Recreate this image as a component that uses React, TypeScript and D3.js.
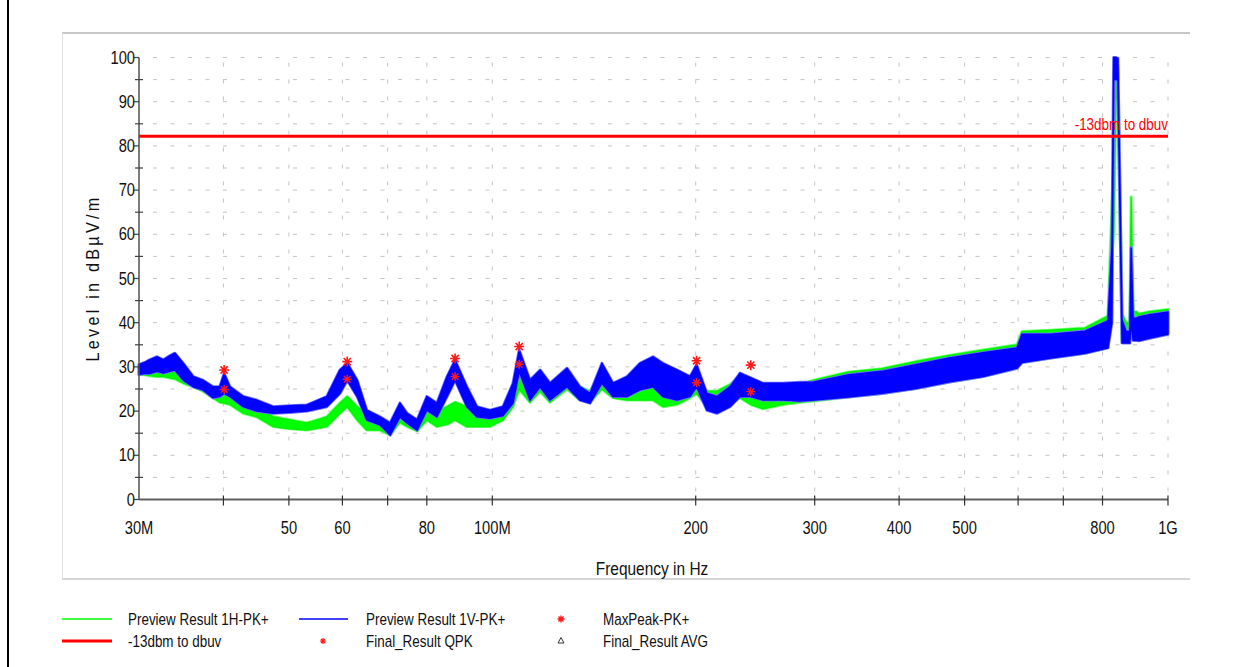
import React from 'react';
import * as d3 from 'd3';

// ---- data ----
const freqMHz = [30, 30.6, 31.1, 31.9, 32.6, 33.3, 33.9, 34.9, 36.1, 37.3, 38.6, 39.5, 40.1, 40.9, 42.8, 44.8, 47.4, 50.2, 53.2, 56.9, 59.5, 61, 63.1, 65.2, 68.2, 70.6, 73, 74.8, 77.4, 80, 82.8, 85.7, 88.1, 91.7, 94.9, 99.2, 103.7, 107.3, 109.6, 113.7, 117.7, 121.7, 129, 134.8, 139.5, 145.3, 150.9, 158.3, 165.4, 172.9, 178.9, 187.7, 196.2, 200.6, 207.8, 215, 224.8, 232.6, 241.3, 251.5, 269.4, 285.4, 299.3, 336.1, 377.3, 423.2, 474.9, 532.4, 597.8, 608, 671, 753.6, 815, 826, 831, 838, 843, 855, 867, 878, 882, 888, 897, 906, 940, 1000];

const vLow = [28.3, 28.5, 28.5, 29, 28.6, 29, 29.3, 27, 25.5, 24.8, 23, 23.3, 24, 23.3, 21, 20, 19.5, 19.7, 20, 21, 24, 27, 23.3, 18, 16.9, 14.6, 18.7, 17.3, 15.7, 20.2, 18.7, 23.3, 27, 21, 18.7, 18.4, 19, 21.8, 29, 22.5, 25.5, 22.5, 25.5, 22.5, 21.8, 26.3, 23.3, 23.3, 24.8, 25.5, 23.3, 22.5, 23.3, 25.5, 20.2, 19.5, 21, 23.3, 23.3, 22.5, 22.5, 22.3, 22.5, 23.2, 24, 25.1, 26.6, 27.8, 29.7, 31, 32, 33.1, 34.3, 40, 95, 95, 95, 35.4, 35.4, 35.4, 40, 36, 36, 35.9, 36.5, 37.4];
const vHigh = [30.5, 31, 31.6, 32.3, 31.6, 32.5, 33.1, 30.8, 27.8, 27, 25.5, 25.5, 28.5, 25.5, 23.3, 22.5, 21, 21.2, 21.4, 23.3, 29.3, 30.8, 27, 20.2, 18.7, 17.3, 21.8, 19.5, 18, 23.3, 21.8, 27.8, 31.5, 25.5, 21, 20.2, 21, 26.3, 33.8, 27, 29.3, 26.3, 29.7, 25.5, 24, 30.8, 26.3, 27.8, 30.8, 32.3, 30.8, 29.3, 27.8, 30.5, 24, 23.3, 25.5, 28.6, 27.5, 26.3, 26.3, 26.5, 26.6, 28.2, 29, 30.5, 32, 33.2, 34.3, 37.4, 37.4, 38.1, 40.4, 57, 100, 100, 99.8, 40.6, 38, 38, 57, 41, 41, 41.3, 41.8, 42.4];
const hLow = [28.3, 28.2, 28, 27.8, 27.8, 27.5, 27.3, 26.3, 25.5, 24.5, 23, 22, 21.8, 21.5, 19.5, 18.7, 16.5, 16, 15.7, 16.5, 19.5, 21, 18, 15.7, 15.7, 14.6, 17.5, 16.5, 15.5, 18, 16.5, 17, 18, 16.5, 16.5, 16.5, 18, 21, 25, 22, 24.5, 22, 25, 22.5, 22, 25, 23, 22.5, 22.5, 22.5, 21, 21.5, 23, 24, 21, 20.5, 21.5, 23, 21.5, 20.5, 21.5, 22, 22.3, 23.2, 24, 25.1, 26.6, 27.8, 29.7, 31, 32, 33.1, 34.3, 55, 60, 92, 90, 36, 36, 37, 55, 37, 37, 36.5, 37, 38];
const hHigh = [30.2, 30, 29.8, 29.7, 29.5, 29.3, 29, 28.6, 27.5, 26.8, 25.5, 24.5, 24, 23.5, 21.8, 21, 18.7, 18, 17.3, 18.7, 21.8, 23.3, 21, 19.5, 18, 17, 21, 19, 18, 22, 20, 21, 22, 21, 19.5, 18.7, 20.5, 25, 29.3, 26, 28.5, 26, 29, 25.5, 24.5, 29, 26, 26, 27, 27.5, 26, 25.5, 26.5, 28, 24.5, 24.5, 26, 28, 25, 23.5, 24.5, 26, 27, 28.8, 29.6, 31.2, 32.6, 33.8, 35, 38, 38.3, 38.8, 41.5, 66, 77.5, 99, 98, 42, 40, 40, 68.5, 42.5, 42.5, 42, 42.5, 43];

const peakFreq = [40.1, 61.0, 88.1, 109.6, 200.6, 241.3];
const maxPeakLevel = [29.3, 31.2, 31.9, 34.6, 31.4, 30.4];
const qpkLevel = [24.9, 27.2, 27.8, 30.6, 26.4, 24.4];

const limitLevel = 82.2;

const xTickValues = [40, 50, 60, 70, 80, 100, 200, 300, 400, 500, 600, 700, 800, 1000];
const xLabelValues = [30, 50, 60, 80, 100, 200, 300, 400, 500, 800, 1000];
const xLabelTexts = ['30M', '50', '60', '80', '100M', '200', '300', '400', '500', '800', '1G'];
const yLabelValues = [0, 10, 20, 30, 40, 50, 60, 70, 80, 90, 100];
const yMinorValues = [5, 15, 25, 35, 45, 55, 65, 75, 85, 95];

const FONT = "'Liberation Sans',Arial,sans-serif";

const W = 1236;
const H = 667;
const X0 = 139;
const X1 = 1168;
const Y0 = 499.5;
const Y1 = 57.5;

function starPath(cx: number, cy: number, r: number) {
  const d = r * 0.72;
  return `M${cx - r},${cy}L${cx + r},${cy}M${cx},${cy - r}L${cx},${cy + r}M${cx - d},${cy - d}L${cx + d},${cy + d}M${cx - d},${cy + d}L${cx + d},${cy - d}`;
}

// narrow text: horizontally condensed like Arial Narrow
function NText(props: { x: number; y: number; size: number; anchor?: string; fill?: string; sx?: number; children: any }) {
  const { x, y, size, anchor = 'start', fill = '#111', sx = 0.84, children } = props;
  return (
    <text transform={`translate(${x},${y}) scale(${sx},1)`} textAnchor={anchor as any} fontFamily={FONT} fontSize={size} fill={fill}>
      {children}
    </text>
  );
}

export default function App() {
  const x = d3.scaleLog().domain([30, 1000]).range([X0, X1]);
  const y = d3.scaleLinear().domain([0, 100]).range([Y0, Y1]);

  const idx = d3.range(freqMHz.length);
  const areaV = d3.area<number>().x(i => x(freqMHz[i])).y0(i => y(vLow[i])).y1(i => y(vHigh[i]));
  const areaH = d3.area<number>().x(i => x(freqMHz[i])).y0(i => y(hLow[i])).y1(i => y(hHigh[i]));

  const gridY = [...yMinorValues, ...yLabelValues.filter(v => v > 0)];
  const dV = areaV(idx) || '';
  const dH = areaH(idx) || '';

  return (
    <svg width={W} height={H} style={{ position: 'absolute', left: 0, top: 0, background: '#fff' }}>
      <rect x={0} y={0} width={W} height={H} fill="#fff" />
      {/* left black page line */}
      <line x1={8} y1={0} x2={8} y2={H} stroke="#000" strokeWidth={2} />
      {/* chart frame */}
      <line x1={62} y1={33} x2={1190} y2={33} stroke="#b4b4b4" strokeWidth={1.5} />
      <line x1={62} y1={579} x2={1190} y2={579} stroke="#c8c8c8" strokeWidth={1.5} />
      <line x1={62.5} y1={33} x2={62.5} y2={579} stroke="#e0e0e0" strokeWidth={1} />

      {/* grid */}
      {gridY.map(v => (
        <line key={'gy' + v} x1={X0 + 14} x2={X1} y1={y(v)} y2={y(v)} stroke="#c4c4c4" strokeWidth={1} strokeDasharray="4 13.5" />
      ))}
      {xTickValues.filter(v => v < 1000).map(v => (
        <line key={'gx' + v} x1={x(v)} x2={x(v)} y1={Y0 - 8} y2={Y1} stroke="#c4c4c4" strokeWidth={1} strokeDasharray="4 13" />
      ))}
      <line x1={X1} x2={X1} y1={Y0 - 8} y2={Y1} stroke="#c4c4c4" strokeWidth={1} strokeDasharray="4 13" />

      {/* traces */}
      <path d={dH} fill="#00ff00" stroke="#70ff70" strokeWidth={3} strokeLinejoin="round" />
      <path d={dH} fill="#00ff00" stroke="#00f000" strokeWidth={1.2} />
      <path d={dV} fill="none" stroke="#7070ff" strokeWidth={3} strokeLinejoin="round" />
      <path d={dV} fill="#0000ff" stroke="#0000ff" strokeWidth={1.4} />

      {/* limit line */}
      <line x1={X0} x2={X1} y1={y(limitLevel)} y2={y(limitLevel)} stroke="#ff0000" strokeWidth={3} />
      <NText x={X1} y={y(limitLevel) - 6} size={16} anchor="end" fill="#ff0000">-13dbm to dbuv</NText>

      {/* markers */}
      {peakFreq.map((f, i) => (
        <path key={'mp' + i} d={starPath(x(f), y(maxPeakLevel[i]), 5)} stroke="#ff1a1a" strokeWidth={1.6} fill="none" />
      ))}
      {peakFreq.map((f, i) => (
        <path key={'qp' + i} d={starPath(x(f), y(qpkLevel[i]), 4.5)} stroke="#ff1a1a" strokeWidth={1.4} fill="none" />
      ))}

      {/* axes */}
      <line x1={X0} x2={X0} y1={Y1} y2={Y0} stroke="#505050" strokeWidth={1.5} />
      <line x1={X0} x2={X1} y1={Y0} y2={Y0} stroke="#606060" strokeWidth={2} />
      {yLabelValues.map(v => (
        <g key={'yl' + v}>
          <line x1={X0 - 5} x2={X0} y1={y(v)} y2={y(v)} stroke="#404040" strokeWidth={1.2} />
          <NText x={X0 - 4} y={y(v) + 6} size={17.5} anchor="end">{v}</NText>
        </g>
      ))}
      {yMinorValues.map(v => (
        <line key={'ym' + v} x1={X0 - 4} x2={X0 + 4} y1={y(v)} y2={y(v)} stroke="#404040" strokeWidth={1.2} />
      ))}
      {xTickValues.map(v => (
        <line key={'xt' + v} x1={x(v)} x2={x(v)} y1={Y0 - 4} y2={Y0 + 6} stroke="#303030" strokeWidth={1.2} />
      ))}
      {xLabelValues.map((v, i) => (
        <NText key={'xl' + v} x={x(v)} y={Y0 + 34} size={17.5} anchor="middle">{xLabelTexts[i]}</NText>
      ))}

      {/* axis titles */}
      <text transform={`translate(99, 278) rotate(-90) scale(0.9,1)`} textAnchor="middle" fontFamily={FONT} fontSize={18} letterSpacing={3.6} fill="#111">Level in dBµV/m</text>
      <NText x={652} y={575} size={18} anchor="middle" sx={0.86}>Frequency in Hz</NText>

      {/* legend */}
      <line x1={62} x2={112} y1={619} y2={619} stroke="#00ff00" strokeWidth={1.5} />
      <NText x={128} y={624.5} size={16}>Preview Result 1H-PK+</NText>
      <line x1={299} x2={348} y1={619} y2={619} stroke="#0000ff" strokeWidth={1.5} />
      <NText x={366} y={624.5} size={16}>Preview Result 1V-PK+</NText>
      <path d={starPath(561, 619, 3.5)} stroke="#ff1a1a" strokeWidth={1.4} fill="none" />
      <NText x={603} y={624.5} size={16}>MaxPeak-PK+</NText>

      <line x1={62} x2={112} y1={641} y2={641} stroke="#ff0000" strokeWidth={3} />
      <NText x={128} y={646.5} size={16}>-13dbm to dbuv</NText>
      <path d={starPath(323, 641, 3)} stroke="#ff1a1a" strokeWidth={1.2} fill="none" />
      <NText x={366} y={646.5} size={16}>Final_Result QPK</NText>
      <path d="M561,637.5L564,643L558,643Z" stroke="#333" strokeWidth={1} fill="none" />
      <NText x={603} y={646.5} size={16}>Final_Result AVG</NText>
    </svg>
  );
}
